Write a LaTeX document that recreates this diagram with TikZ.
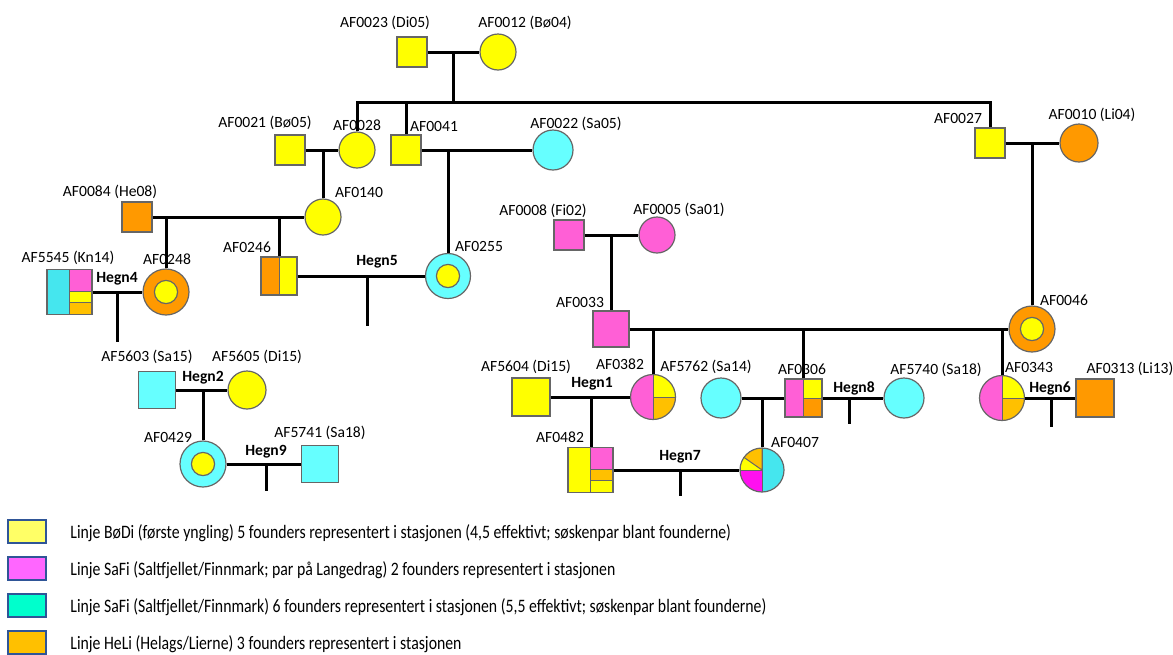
\documentclass[tikz,border=0pt]{standalone}
\usepackage{fontspec}
\setmainfont{Carlito}
\newfontfamily\legendfont[FakeStretch=0.83]{Carlito}
\usetikzlibrary{calc}

\definecolor{yel}{HTML}{FFFF00}
\definecolor{pnk}{HTML}{FF5FD6}
\definecolor{cyn}{HTML}{66FFFF}
\definecolor{org}{HTML}{FF9900}
\definecolor{gld}{HTML}{FFC000}
\definecolor{mag}{HTML}{FF10F0}
\definecolor{aqu}{HTML}{45E6EE}
\definecolor{lgyel}{HTML}{FFFF66}
\definecolor{lgpnk}{HTML}{FF66FF}
\definecolor{lgaqu}{HTML}{00FFCC}
\definecolor{legline}{HTML}{2F5597}

% fill a piece of a symbol, fractions from the top left corner
\newcommand\chunk[5]{%
  \filldraw[fill=#1, draw=black!60, line width=0.5pt]
    let \p1=(path picture bounding box.north west),
        \p2=(path picture bounding box.south east) in
    ({\x1+#2*(\x2-\x1)},{\y1+#3*(\y2-\y1)}) rectangle
    ({\x1+#4*(\x2-\x1)},{\y1+#5*(\y2-\y1)});}

\begin{document}
\begin{tikzpicture}[
    x=0.5pt, y=-0.5pt,
    link/.style={line width=1.5pt},
    sq/.style={rectangle, draw=black!60, line width=0.6pt, minimum size=15pt,
               inner sep=0},
    ci/.style={circle, draw=black!60, line width=0.6pt, minimum size=18pt,
               inner sep=0},
    ring/.style={ci, minimum size=23pt, path picture={
        \filldraw[fill=yel, draw=black!60, line width=0.6pt]
          (path picture bounding box.center) circle (5.8pt);}},
    lab/.style={font=\fontsize{7.8}{9}\selectfont, inner sep=0},
    hegn/.style={font=\fontsize{7.8}{9}\selectfont\bfseries, inner sep=0},
    legbox/.style={draw=legline, line width=0.8pt, minimum width=19pt,
                   minimum height=11.5pt, inner sep=0},
    legtext/.style={font=\legendfont\fontsize{9.5}{11}\selectfont,
                    inner sep=0, anchor=base west}
  ]
  \useasboundingbox (0,0) rectangle (1173,654);

  % Founders and plain individuals
  \node[sq, fill=yel] (af0023) at (412,52) {};
  \node[ci, fill=yel] (af0012) at (498,52) {};
  \node[sq, fill=yel] (af0021) at (290,150) {};
  \node[ci, fill=yel] (af0028) at (357,150) {};
  \node[sq, fill=yel] (af0041) at (406,150) {};
  \node[ci, fill=cyn, minimum size=20pt] (af0022) at (553,150) {};
  \node[sq, fill=org] (af0084) at (137,217) {};
  \node[ci, fill=yel] (af0140) at (323,217) {};
  \node[sq, fill=yel] (af0027) at (990,143) {};
  \node[ci, fill=org, minimum size=19pt] (af0010) at (1079,143) {};
  \node[sq, fill=pnk] (af0008) at (569,235) {};
  \node[ci, fill=pnk] (af0005) at (657,235) {};
  \node[sq, fill=pnk, minimum size=18pt] (af0033) at (611,329) {};
  \node[sq, fill=cyn, minimum size=18.5pt] (af5603) at (157,390) {};
  \node[ci, fill=yel, minimum size=19pt] (af5605) at (247,390) {};
  \node[sq, fill=cyn, minimum size=18.5pt] (af5741) at (320,464) {};
  \node[sq, fill=yel, minimum size=19pt] (af5604) at (531,397) {};
  \node[ci, fill=cyn, minimum size=20pt] (af5762) at (721,398) {};
  \node[ci, fill=cyn, minimum size=20pt] (af5740) at (904,398) {};
  \node[sq, fill=org, minimum size=19pt] (af0313) at (1095,398) {};

  % Ringed females
  \node[ring, fill=org] (af0248) at (166,292) {};
  \node[ring, fill=cyn, minimum size=22.5pt] (af0255) at (448,276) {};
  \node[ring, fill=org] (af0046) at (1032,329) {};
  \node[ring, fill=cyn] (af0429) at (203,464) {};

  % Mixed lines
  \node[sq, minimum width=18pt, minimum height=19pt, path picture={
      \chunk{org}{0}{0}{0.5}{1}\chunk{yel}{0.5}{0}{1}{1}}] (af0246) at (279,276) {};
  \node[sq, minimum size=22.5pt, path picture={
      \chunk{aqu}{0}{0}{0.5}{1}\chunk{pnk}{0.5}{0}{1}{0.49}
      \chunk{yel}{0.5}{0.49}{1}{0.73}\chunk{gld}{0.5}{0.73}{1}{1}}] (af5545) at (69.5,292) {};
  \node[sq, minimum size=22.5pt, path picture={
      \chunk{yel}{0}{0}{0.5}{1}\chunk{pnk}{0.5}{0}{1}{0.49}
      \chunk{gld}{0.5}{0.49}{1}{0.73}\chunk{yel}{0.5}{0.73}{1}{1}}] (af0482) at (590.5,470) {};
  \node[sq, minimum width=18.5pt, minimum height=19pt, path picture={
      \chunk{pnk}{0}{0}{0.5}{1}\chunk{yel}{0.5}{0}{1}{0.5}
      \chunk{org}{0.5}{0.5}{1}{1}}] (af0306) at (803.5,398) {};
  \foreach \id/\x/\y in {0382/653/397, 0343/1002/398} {
    \node[ci, minimum size=22.5pt, path picture={
        \chunk{pnk}{0}{0}{0.5}{1}\chunk{yel}{0.5}{0}{1}{0.5}
        \chunk{gld}{0.5}{0.5}{1}{1}}] (af\id) at (\x,\y) {};
  }
  \node[ci, minimum size=22pt, path picture={
      \chunk{aqu}{0.5}{0}{1}{1}\chunk{mag}{0}{0.5}{0.5}{1}
      \chunk{yel}{0}{0}{0.5}{0.5}
      \filldraw[fill=gld, draw=black!60, line width=0.5pt,
                shift={(path picture bounding box.center)}]
        (0,0) -- (90:30pt) -- (145:30pt) -- cycle;}] (af0407) at (762,470) {};

  % Names
  \foreach \id/\x/\y/\txt in {
      0023/385/23/AF0023 (Di05), 0012/525/23/AF0012 (Bø04),
      0021/265/123/AF0021 (Bø05), 0028/357/125/AF0028,
      0041/434/126/AF0041, 0022/576/124/AF0022 (Sa05),
      0140/359/192/AF0140, 0084/110/192/AF0084 (He08),
      0246/247/247/AF0246, 5545/68/258/AF5545 (Kn14),
      0248/167/259/AF0248, 0255/479/246/AF0255,
      0008/543/211/AF0008 (Fi02), 0005/679/210/AF0005 (Sa01),
      0033/580/302/AF0033, 0027/958/118/AF0027,
      0010/1092/115/AF0010 (Li04), 0046/1064/300/AF0046,
      5603/147/357/AF5603 (Sa15), 5605/257/357/AF5605 (Di15),
      0429/168/437/AF0429, 5741/320/433/AF5741 (Sa18),
      5604/526/367/AF5604 (Di15), 0382/620/364/AF0382,
      5762/706/367/AF5762 (Sa14), 0306/802/369/AF0306,
      0482/560/437/AF0482, 0407/795/442/AF0407,
      5740/936/370/AF5740 (Sa18), 0343/1029/367/AF0343,
      0313/1130/369/AF0313 (Li13)} {
    \node[lab] (l\id) at (\x,\y) {\txt};
  }
  \foreach \h/\x/\y in {1/592/384, 2/203/378, 4/117/279, 5/377/262,
                        6/1050/388, 7/680/457, 8/854/388, 9/266/452} {
    \node[hegn] (hegn\h) at (\x,\y) {Hegn\h};
  }

  % Top generations
  \coordinate (j1) at (453,52);
  \coordinate (s1) at (453,102);
  \draw[link] (af0023) -- (af0012);
  \draw[link] (j1) -- (s1);
  \draw[link] (af0028.north) |- (s1) -| (af0027.north);
  \draw[link] (af0041.north) -- (af0041.north |- s1);

  \coordinate (j2) at (323,150);
  \draw[link] (af0021) -- (af0028);
  \draw[link] (j2) -- (af0140);
  \coordinate (j3) at (448,150);
  \draw[link] (af0041) -- (af0022);
  \draw[link] (j3) -- (af0255);
  \draw[link] (af0084) -- (af0140);
  \draw[link] (af0248.north) -- (af0248.north |- af0084);
  \draw[link] (af0246.north) -- (af0246.north |- af0084);

  \coordinate (j4) at (611,235);
  \draw[link] (af0008) -- (af0005);
  \draw[link] (j4) -- (af0033);
  \coordinate (j5) at (1032,143);
  \draw[link] (af0027) -- (af0010);
  \draw[link] (j5) -- (af0046);
  \draw[link] (af0033) -- (af0046);
  \foreach \c in {af0382, af0306, af0343}
    \draw[link] (\c.north) -- (\c.north |- af0033);

  % Pens (Hegn)
  \coordinate (h4) at (117,292);
  \draw[link] (af5545) -- (af0248);
  \draw[link] (h4) -- ++(0,50);
  \coordinate (h5) at (367,276);
  \draw[link] (af0246) -- (af0255);
  \draw[link] (h5) -- ++(0,50);
  \coordinate (h2) at (203,390);
  \draw[link] (af5603) -- (af5605);
  \draw[link] (h2) -- (af0429);
  \coordinate (h9) at (266,464);
  \draw[link] (af0429) -- (af5741);
  \draw[link] (h9) -- ++(0,27);
  \coordinate (h1) at (591,397);
  \draw[link] (af5604) -- (af0382);
  \draw[link] (h1) -- (h1 |- af0482.north);
  \coordinate (j6) at (762,398);
  \draw[link] (af5762) -- (af0306);
  \draw[link] (j6) -- (af0407);
  \coordinate (h8) at (849,398);
  \draw[link] (af0306) -- (af5740);
  \draw[link] (h8) -- ++(0,26);
  \coordinate (h6) at (1051,398);
  \draw[link] (af0343) -- (af0313);
  \draw[link] (h6) -- ++(0,29);
  \coordinate (h7) at (680,470);
  \draw[link] (af0482) -- (af0407);
  \draw[link] (h7) -- ++(0,26);

  % Legend
  \foreach \c/\txt [count=\i from 0] in {
      lgyel/{Linje BøDi (første yngling) 5 founders representert i stasjonen (4,5 effektivt; søskenpar blant founderne)},
      lgpnk/{Linje SaFi (Saltfjellet/Finnmark; par på Langedrag) 2 founders representert i stasjonen},
      lgaqu/{Linje SaFi (Saltfjellet/Finnmark) 6 founders representert i stasjonen (5,5 effektivt; søskenpar blant founderne)},
      gld/{Linje HeLi (Helags/Lierne) 3 founders representert i stasjonen}} {
    \node[legbox, fill=\c] (key\i) at (27, 531.5+37*\i) {};
    \node[legtext] (txt\i) at (70, 538.5+37*\i) {\txt};
  }
\end{tikzpicture}
\end{document}
